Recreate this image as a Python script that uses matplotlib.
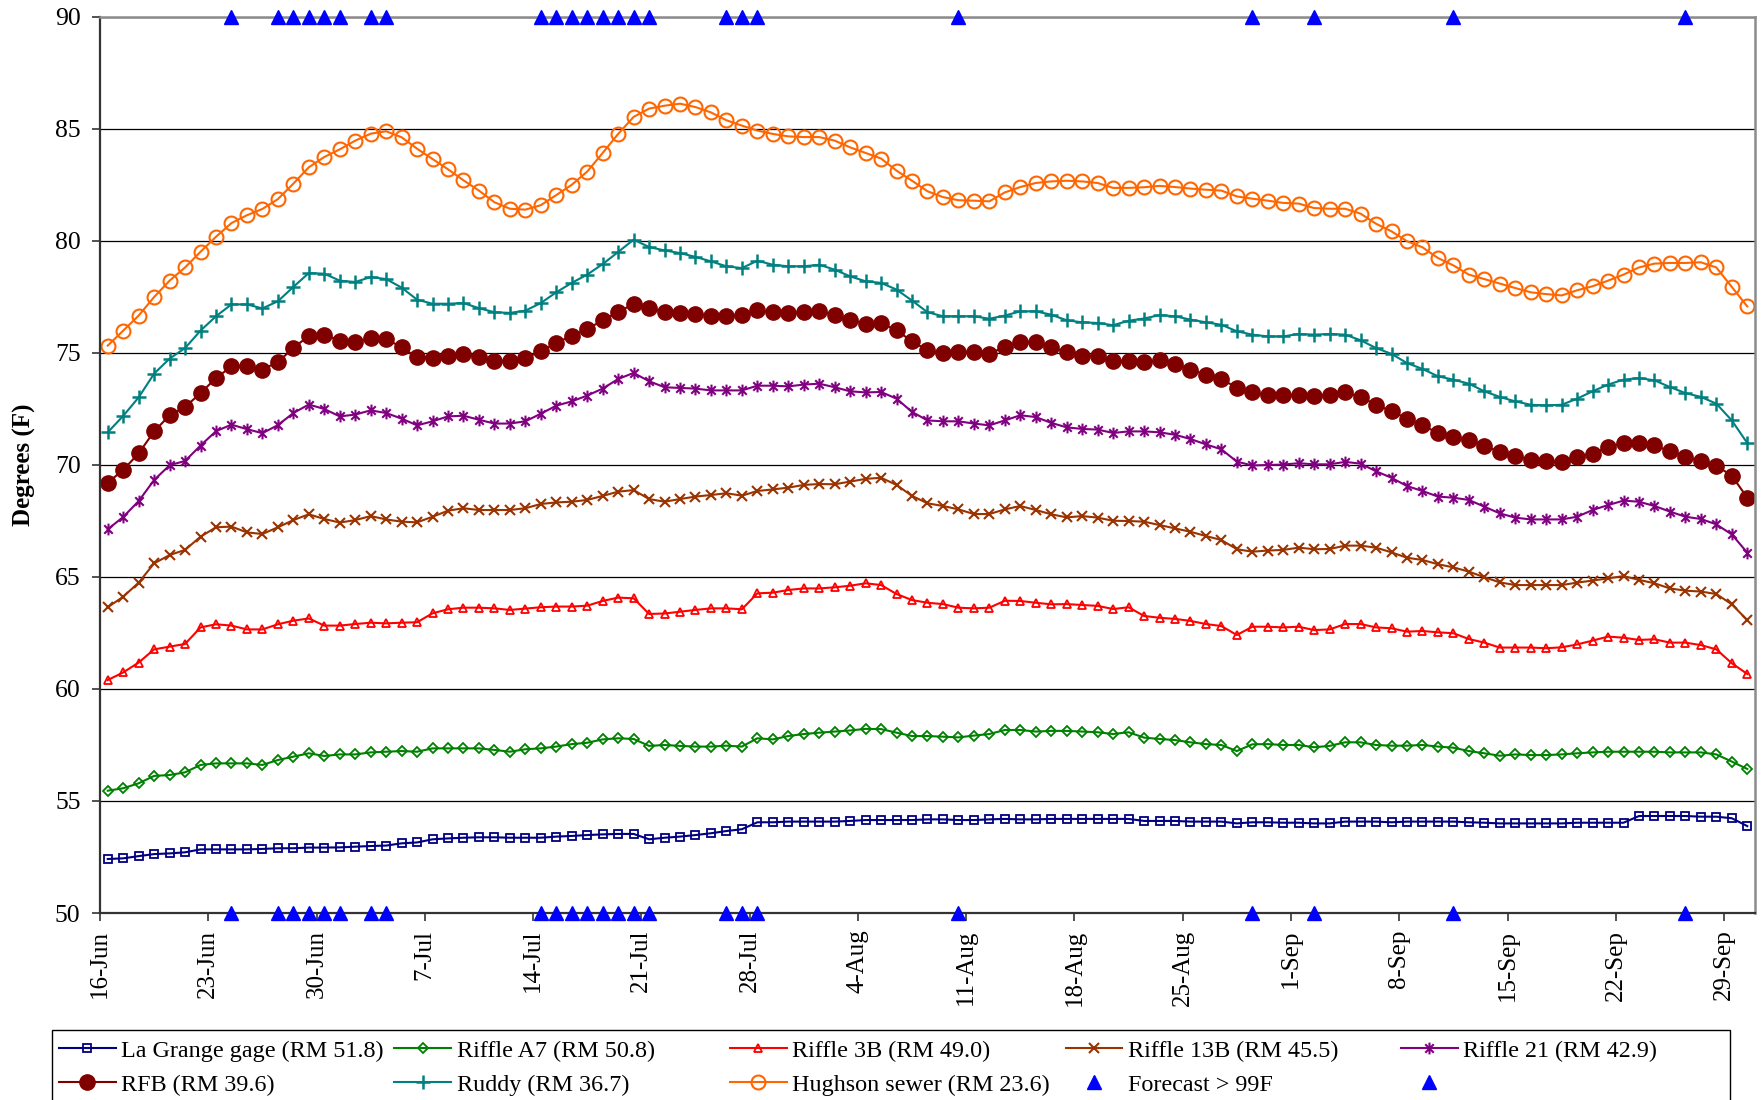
import numpy as np
import matplotlib
matplotlib.use('Agg')
import matplotlib.pyplot as plt
from matplotlib.path import Path
from matplotlib.patches import Rectangle
import matplotlib.transforms as mtransforms

plt.rcParams['font.family'] = ['Liberation Serif', 'DejaVu Serif']

# ---------------- data (daily values, 16-Jun .. 30-Sep) ----------------
days = np.arange(107)

la_grange = [52.41, 52.44, 52.54, 52.63, 52.66, 52.71, 52.84, 52.84, 52.84, 52.84,
             52.86, 52.89, 52.89, 52.92, 52.92, 52.93, 52.96, 52.99, 53.01, 53.11,
             53.15, 53.29, 53.33, 53.36, 53.38, 53.38, 53.36, 53.36, 53.36, 53.41,
             53.44, 53.48, 53.51, 53.53, 53.53, 53.29, 53.36, 53.41,
             53.48, 53.56, 53.66, 53.74, 54.05, 54.05, 54.08, 54.08, 54.08, 54.08,
             54.11, 54.15, 54.15, 54.15, 54.15, 54.18, 54.18, 54.15, 54.15, 54.18,
             54.20, 54.18, 54.18, 54.20, 54.20, 54.20, 54.20, 54.20, 54.20, 54.11,
             54.11, 54.11, 54.08, 54.08, 54.08, 54.00, 54.05,
             54.05, 54.03, 54.03, 54.00, 54.00, 54.08, 54.08, 54.08, 54.05, 54.08,
             54.08, 54.08, 54.08, 54.05, 54.03, 54.00, 54.00, 54.00, 54.00, 54.00,
             54.03, 54.03, 54.03, 54.03, 54.33, 54.33, 54.33, 54.33, 54.30, 54.30,
             54.23, 53.88]

riffle_a7 = [55.46, 55.57, 55.79, 56.12, 56.16, 56.28, 56.61, 56.68, 56.68, 56.68,
             56.61, 56.83, 56.98, 57.13, 57.01, 57.08, 57.08, 57.17, 57.20, 57.23,
             57.20, 57.35, 57.35, 57.35, 57.35, 57.28, 57.20, 57.31, 57.35, 57.43,
             57.54, 57.60, 57.75, 57.80, 57.77, 57.46, 57.50, 57.46,
             57.43, 57.43, 57.47, 57.43, 57.80, 57.75, 57.90, 57.99, 58.05, 58.10,
             58.15, 58.22, 58.21, 58.05, 57.90, 57.90, 57.87, 57.84, 57.92, 57.99,
             58.17, 58.17, 58.10, 58.13, 58.13, 58.10, 58.07, 57.99, 58.07, 57.83,
             57.77, 57.72, 57.62, 57.54, 57.50, 57.23, 57.53,
             57.54, 57.50, 57.50, 57.40, 57.46, 57.62, 57.62, 57.50, 57.47, 57.47,
             57.50, 57.43, 57.38, 57.23, 57.13, 57.02, 57.08, 57.05, 57.05, 57.08,
             57.13, 57.17, 57.20, 57.20, 57.20, 57.20, 57.17, 57.17, 57.17, 57.08,
             56.76, 56.43]

riffle_3b = [60.40, 60.74, 61.18, 61.77, 61.89, 62.01, 62.75, 62.89, 62.83, 62.66,
             62.66, 62.89, 63.05, 63.15, 62.83, 62.83, 62.90, 62.96, 62.93, 62.96,
             62.98, 63.38, 63.56, 63.63, 63.63, 63.60, 63.53, 63.59, 63.65, 63.68,
             63.68, 63.72, 63.93, 64.08, 64.05, 63.35, 63.37, 63.45,
             63.53, 63.60, 63.60, 63.56, 64.27, 64.30, 64.42, 64.49, 64.49, 64.54,
             64.61, 64.72, 64.64, 64.24, 63.97, 63.85, 63.79, 63.63, 63.60, 63.63,
             63.94, 63.93, 63.85, 63.78, 63.79, 63.75, 63.71, 63.57, 63.65, 63.26,
             63.18, 63.13, 63.04, 62.90, 62.81, 62.41, 62.78,
             62.78, 62.75, 62.78, 62.63, 62.66, 62.90, 62.90, 62.75, 62.71, 62.56,
             62.59, 62.53, 62.49, 62.23, 62.07, 61.85, 61.85, 61.85, 61.82, 61.86,
             61.99, 62.16, 62.34, 62.29, 62.19, 62.22, 62.07, 62.07, 61.96, 61.77,
             61.15, 60.67]

riffle_13b = [63.65, 64.12, 64.75, 65.61, 65.98, 66.21, 66.80, 67.22, 67.25, 66.99,
              66.92, 67.22, 67.54, 67.80, 67.59, 67.43, 67.54, 67.72, 67.57, 67.47,
              67.44, 67.69, 67.96, 68.07, 67.99, 67.99, 67.99, 68.07, 68.26, 68.33,
              68.36, 68.44, 68.62, 68.81, 68.88, 68.48, 68.36, 68.48,
              68.59, 68.66, 68.74, 68.63, 68.84, 68.91, 68.99, 69.11, 69.15, 69.14,
              69.26, 69.38, 69.43, 69.11, 68.62, 68.29, 68.17, 68.02, 67.81, 67.81,
              68.02, 68.17, 67.99, 67.80, 67.66, 67.72, 67.65, 67.51, 67.50, 67.47,
              67.32, 67.17, 67.02, 66.83, 66.65, 66.24, 66.13,
              66.18, 66.21, 66.31, 66.24, 66.25, 66.40, 66.40, 66.31, 66.10, 65.86,
              65.76, 65.57, 65.43, 65.24, 64.99, 64.76, 64.64, 64.64, 64.64, 64.64,
              64.75, 64.84, 64.94, 65.04, 64.87, 64.72, 64.49, 64.39, 64.35, 64.24,
              63.78, 63.08]

riffle_21 = [67.13, 67.68, 68.39, 69.33, 69.99, 70.18, 70.87, 71.51, 71.80, 71.60,
             71.42, 71.78, 72.32, 72.70, 72.50, 72.17, 72.25, 72.44, 72.32, 72.07,
             71.77, 71.95, 72.17, 72.20, 72.02, 71.85, 71.85, 71.95, 72.29, 72.65,
             72.84, 73.10, 73.41, 73.84, 74.11, 73.74, 73.47, 73.44, 73.41, 73.33,
             73.33, 73.33, 73.54, 73.54, 73.51, 73.59, 73.63, 73.47, 73.29, 73.24,
             73.26, 72.96, 72.37, 71.99, 71.95, 71.95, 71.85, 71.77, 71.99, 72.22,
             72.14, 71.88, 71.68, 71.61, 71.58, 71.43, 71.50, 71.50, 71.46, 71.35,
             71.16, 70.92, 70.70, 70.15, 69.98, 70.00, 70.02, 70.08, 70.03, 70.03,
             70.14, 70.06, 69.72, 69.43, 69.06, 68.84, 68.59, 68.54, 68.44, 68.14,
             67.84, 67.65, 67.57, 67.57, 67.57, 67.69, 67.99, 68.21, 68.41, 68.36,
             68.17, 67.92, 67.69, 67.59, 67.35, 66.90, 66.09]

rfb = [69.21, 69.78, 70.52, 71.50, 72.22, 72.59, 73.21, 73.88, 74.40, 74.40,
       74.26, 74.60, 75.22, 75.77, 75.82, 75.55, 75.48, 75.67, 75.63, 75.25,
       74.81, 74.78, 74.85, 74.96, 74.82, 74.63, 74.63, 74.78, 75.07, 75.45,
       75.77, 76.07, 76.46, 76.83, 77.19, 77.01, 76.83, 76.79, 76.74, 76.67,
       76.67, 76.68, 76.90, 76.82, 76.79, 76.82, 76.86, 76.71, 76.46, 76.31,
       76.34, 76.01, 75.52, 75.12, 75.00, 75.03, 75.03, 74.97, 75.27, 75.49,
       75.48, 75.27, 75.03, 74.88, 74.85, 74.63, 74.63, 74.59, 74.68, 74.52,
       74.26, 74.03, 73.85, 73.44, 73.24, 73.11, 73.11, 73.14, 73.07, 73.14,
       73.24, 73.04, 72.69, 72.40, 72.07, 71.77, 71.43, 71.25, 71.13, 70.86,
       70.58, 70.39, 70.24, 70.16, 70.13, 70.34, 70.51, 70.80, 70.98, 70.98,
       70.88, 70.61, 70.36, 70.19, 69.97, 69.52, 68.54]

ruddy = [71.46, 72.19, 73.02, 74.08, 74.75, 75.22, 76.00, 76.64, 77.17, 77.17,
         76.99, 77.31, 77.95, 78.57, 78.54, 78.23, 78.17, 78.39, 78.30, 77.92,
         77.38, 77.20, 77.20, 77.23, 77.00, 76.82, 76.79, 76.89, 77.23, 77.71,
         78.13, 78.50, 78.97, 79.51, 80.06, 79.73, 79.58, 79.46, 79.29, 79.09,
         78.87, 78.79, 79.12, 78.94, 78.87, 78.87, 78.94, 78.72, 78.42, 78.20,
         78.13, 77.83, 77.34, 76.82, 76.64, 76.64, 76.64, 76.53, 76.67, 76.86,
         76.86, 76.71, 76.46, 76.37, 76.34, 76.24, 76.44, 76.54, 76.69, 76.64,
         76.49, 76.37, 76.26, 75.97, 75.82, 75.74, 75.74, 75.85, 75.82, 75.85,
         75.82, 75.57, 75.22, 74.96, 74.55, 74.29, 73.96, 73.81, 73.63, 73.29,
         73.04, 72.84, 72.69, 72.66, 72.69, 72.96, 73.29, 73.59, 73.81, 73.88,
         73.78, 73.48, 73.21, 73.04, 72.74, 71.99, 70.98]

hughson = [75.33, 76.00, 76.67, 77.50, 78.23, 78.82, 79.52, 80.19, 80.80, 81.15,
           81.43, 81.87, 82.56, 83.29, 83.75, 84.09, 84.48, 84.79, 84.90, 84.63,
           84.12, 83.66, 83.20, 82.71, 82.25, 81.73, 81.44, 81.40, 81.60, 82.05,
           82.51, 83.10, 83.93, 84.78, 85.54, 85.91, 86.04, 86.13, 85.98, 85.74,
           85.39, 85.15, 84.93, 84.78, 84.67, 84.64, 84.64, 84.48, 84.18, 83.93,
           83.68, 83.14, 82.69, 82.22, 81.96, 81.82, 81.80, 81.77, 82.17, 82.41,
           82.59, 82.66, 82.69, 82.66, 82.59, 82.37, 82.37, 82.40, 82.46, 82.41,
           82.34, 82.29, 82.25, 81.99, 81.89, 81.80, 81.70, 81.67, 81.47, 81.44,
           81.44, 81.22, 80.77, 80.43, 79.99, 79.72, 79.24, 78.91, 78.50, 78.30,
           78.10, 77.90, 77.71, 77.63, 77.57, 77.80, 77.98, 78.23, 78.50, 78.82,
           78.99, 79.02, 79.02, 79.05, 78.82, 77.95, 77.08]

forecast_days = [8, 11, 12, 13, 14, 15, 17, 18, 28, 29, 30, 31, 32, 33, 34, 35,
                 40, 41, 42, 55, 74, 78, 87, 102]
forecast_top = [90] * len(forecast_days)
forecast_bottom = [50] * len(forecast_days)

tick_labels = ['16-Jun', '23-Jun', '30-Jun', '7-Jul', '14-Jul', '21-Jul', '28-Jul',
               '4-Aug', '11-Aug', '18-Aug', '25-Aug', '1-Sep', '8-Sep', '15-Sep',
               '22-Sep', '29-Sep']

series_names = ['La Grange gage (RM 51.8)', 'Riffle A7 (RM 50.8)', 'Riffle 3B (RM 49.0)',
                'Riffle 13B (RM 45.5)', 'Riffle 21 (RM 42.9)', 'RFB (RM 39.6)',
                'Ruddy (RM 36.7)', 'Hughson sewer (RM 23.6)']
series_values = [la_grange, riffle_a7, riffle_3b, riffle_13b, riffle_21, rfb, ruddy, hughson]

# ---------------- styles ----------------
asterisk = Path([(0, -1), (0, 1), (-0.72, -0.72), (0.72, 0.72), (-0.72, 0.72), (0.72, -0.72)],
                [Path.MOVETO, Path.LINETO, Path.MOVETO, Path.LINETO, Path.MOVETO, Path.LINETO])

styles = [
    dict(color='#000080', marker='s', ms=5.5, mfc='none', mew=1.3),
    dict(color='#008000', marker='D', ms=4.8, mfc='none', mew=1.3),
    dict(color='#FF0000', marker='^', ms=6.0, mfc='none', mew=1.3),
    dict(color='#993300', marker='x', ms=7.5, mfc='none', mew=1.5),
    dict(color='#800080', marker=asterisk, ms=8.5, mfc='none', mew=1.5),
    dict(color='#800000', marker='o', ms=11.0, mfc='#800000', mew=1.0),
    dict(color='#008080', marker='+', ms=10.5, mfc='none', mew=1.8),
    dict(color='#FF6600', marker='o', ms=10.0, mfc='none', mew=1.5),
]

W, H = 1765, 1100
fig = plt.figure(figsize=(W / 100, H / 100), dpi=100)
ax = fig.add_axes([100 / W, 1 - 913 / H, 1655 / W, 896 / H])

handles = []
for name, vals, st in zip(series_names, series_values, styles):
    ln, = ax.plot(days, vals, lw=1.5, label=name, clip_on=False, **st)
    handles.append(ln)

tri_kw = dict(ls='none', marker='^', ms=10.5, color='#0000FF', clip_on=False, zorder=5)
h_top, = ax.plot(forecast_days, forecast_top, label='Forecast > 99F', **tri_kw)
h_bot, = ax.plot(forecast_days, forecast_bottom, label=' ', **tri_kw)

ax.set_xlim(-0.5, 106.5)
ax.set_ylim(50, 90)
ax.set_yticks(np.arange(50, 91, 5))
ax.yaxis.grid(True, color='black', lw=0.9)
ax.set_axisbelow(True)

tick_pos = -0.5 + 7 * np.arange(len(tick_labels))
ax.set_xticks(tick_pos)
ax.set_xticklabels(tick_labels, rotation=90, fontsize=18)
offset = mtransforms.ScaledTranslation(9 / 100, 0, fig.dpi_scale_trans)
for lab in ax.get_xticklabels():
    lab.set_transform(lab.get_transform() + offset)

ax.tick_params(axis='x', direction='out', length=6, width=1.2, color='#333333', pad=6)
ax.tick_params(axis='y', direction='out', length=6, width=1.2, color='#333333', pad=8,
               labelsize=18.5)

for side in ['left', 'bottom']:
    ax.spines[side].set_color('#333333')
    ax.spines[side].set_linewidth(1.6)
for side in ['top', 'right']:
    ax.spines[side].set_color('#8c8c8c')
    ax.spines[side].set_linewidth(1.8)

ax.set_ylabel('Degrees (F)', fontsize=18, fontweight='bold')
ax.yaxis.set_label_coords((36 - 100) / 1655, 0.5)

# legend: five columns of two rows each, Excel-like equal column pitch
row1 = handles[:5]
row2 = handles[5:] + [h_top, h_bot]
col_x = [59 + 335.5 * k for k in range(5)]
for k in range(5):
    pair = [row1[k], row2[k]]
    fig.legend(handles=pair, labels=[h.get_label() for h in pair], ncol=1,
               loc='upper left', bbox_to_anchor=(col_x[k] / W, 1 - 1040 / H),
               borderaxespad=0, borderpad=0, fontsize=17.4, frameon=False,
               handlelength=2.35, handletextpad=0.22, labelspacing=0.49,
               numpoints=1)
fig.add_artist(Rectangle((52 / W, -0.02), 1678 / W, (1100 - 1030) / H + 0.02,
                         transform=fig.transFigure, fill=False, edgecolor='black',
                         lw=1.0))

fig.savefig('out.png', dpi=100)
